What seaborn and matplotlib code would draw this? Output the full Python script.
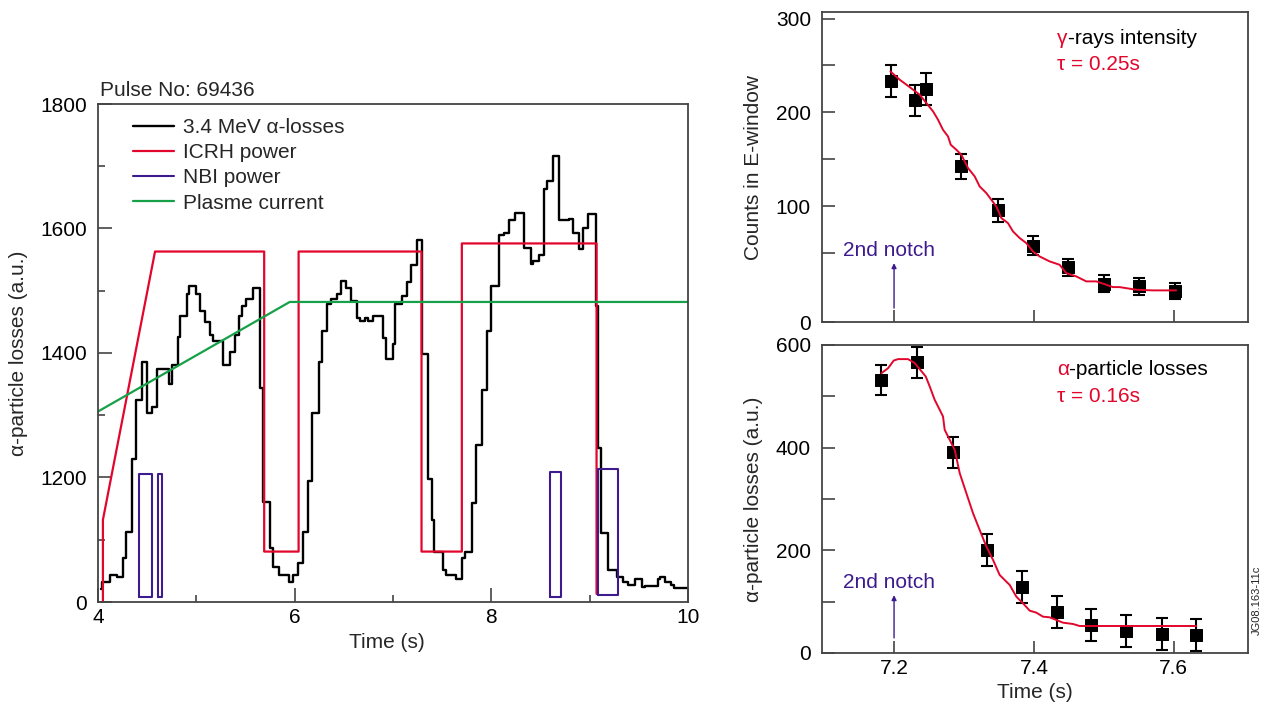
import numpy as np
import pandas as pd
import matplotlib
matplotlib.use("Agg")
import matplotlib.pyplot as plt
from matplotlib.ticker import FixedLocator, NullFormatter
import seaborn as sns

sns.set_style("ticks")
plt.rcParams['font.family'] = ['Liberation Sans', 'DejaVu Sans']
plt.rcParams['mathtext.default'] = 'regular'

RED = '#e2062c'
PURPLE = '#3d1a8e'
GREEN = '#16a047'
SPINE = '#444444'
FS = 15

# ---------------- left panel data (Pulse 69436) ----------------
# 3.4 MeV alpha-losses: step starts (s) and values (a.u., 1000 == axis bottom "0")
loss_t = [4.03, 4.04, 4.12, 4.19, 4.25, 4.28, 4.35, 4.39, 4.45, 4.50, 4.55, 4.60,
          4.72, 4.75, 4.81, 4.83, 4.90, 4.93, 5.00, 5.04, 5.09, 5.14, 5.17, 5.27,
          5.34, 5.39, 5.43, 5.46, 5.51, 5.58, 5.65, 5.68, 5.75, 5.78, 5.84, 5.94,
          5.98, 6.03, 6.08, 6.14, 6.18, 6.25, 6.28, 6.33, 6.37, 6.43, 6.47, 6.52,
          6.57, 6.63, 6.66, 6.72, 6.75, 6.80, 6.90, 6.93, 7.00, 7.02, 7.09, 7.14,
          7.18, 7.24, 7.30, 7.36, 7.40, 7.42, 7.51, 7.54, 7.64, 7.70, 7.73, 7.80,
          7.84, 7.90, 7.96, 8.00, 8.08, 8.13, 8.18, 8.24, 8.33, 8.40, 8.42, 8.48,
          8.54, 8.57, 8.63, 8.69, 8.79, 8.83, 8.89, 8.93, 8.98, 9.06, 9.08, 9.12,
          9.19, 9.28, 9.34, 9.39, 9.46, 9.53, 9.56, 9.69, 9.72, 9.77, 9.83, 9.86,
          10.0]
loss_v = [1021, 1032, 1043, 1040, 1071, 1113, 1229, 1324, 1386, 1303, 1313, 1375,
          1351, 1381, 1425, 1460, 1494, 1508, 1494, 1467, 1450, 1429, 1420, 1381,
          1401, 1429, 1460, 1476, 1486, 1505, 1344, 1160, 1087, 1057, 1043, 1032,
          1043, 1063, 1113, 1195, 1303, 1386, 1435, 1478, 1486, 1494, 1516, 1505,
          1484, 1457, 1452, 1457, 1452, 1460, 1424, 1390, 1414, 1478, 1492, 1514,
          1541, 1581, 1398, 1198, 1132, 1081, 1052, 1043, 1037, 1071, 1081, 1159,
          1252, 1341, 1435, 1508, 1590, 1593, 1613, 1625, 1569, 1543, 1548, 1557,
          1663, 1676, 1717, 1614, 1616, 1593, 1567, 1600, 1624, 1476, 1248, 1111,
          1052, 1040, 1032, 1027, 1037, 1024, 1025, 1037, 1040, 1032, 1027, 1022,
          1022]

# ICRH power outline
icrh_t = [4.05, 4.05, 4.58, 5.69, 5.69, 6.04, 6.04, 7.29, 7.29, 7.70, 7.70, 9.07, 9.07]
icrh_v = [1000, 1132, 1563, 1563, 1081, 1081, 1563, 1563, 1081, 1081, 1576, 1576, 1013]

# Plasma current
ip_t = [4.0, 5.95, 10.0]
ip_v = [1306, 1482, 1482]

# NBI power blocks
nbi_start = [4.42, 4.61, 8.60, 9.08]
nbi_end = [4.55, 4.65, 8.71, 9.29]
nbi_level = [1206, 1206, 1209, 1214]
nbi_base = [1008, 1008, 1008, 1011]

left_yticks = [1000, 1200, 1400, 1600, 1800]
left_yticklabels = ['0', '1200', '1400', '1600', '1800']

# ---------------- right panels data ----------------
g_t = [7.195, 7.230, 7.245, 7.295, 7.348, 7.398, 7.448, 7.500, 7.550, 7.602]
g_v = [233.7, 212.7, 225.0, 142.4, 95.4, 57.8, 35.0, 17.3, 14.4, 9.4]
g_err = [17.0, 16.5, 16.7, 13.7, 12.3, 10.0, 9.0, 9.0, 9.0, 8.5]

g_fit_t = [7.1948, 7.2081, 7.2224, 7.2367, 7.2462, 7.2558, 7.2629, 7.2700, 7.2772,
           7.2810, 7.2891, 7.2962, 7.3058, 7.3153, 7.3224, 7.3320, 7.3391, 7.3462,
           7.3534, 7.3629, 7.3700, 7.3796, 7.3891, 7.3986, 7.4081, 7.4224, 7.4367,
           7.4462, 7.4605, 7.4748, 7.4891, 7.5034, 7.5129, 7.5224, 7.5462, 7.5700,
           7.6033]
g_fit_v = [243.6, 234.8, 226.9, 218.8, 209.9, 201.0, 192.1, 181.4, 174.3, 165.5,
           160.1, 154.8, 140.6, 131.7, 121.0, 113.9, 106.8, 99.7, 87.3, 81.9, 73.1,
           66.0, 60.6, 51.7, 46.4, 41.1, 37.5, 28.6, 25.1, 19.8, 19.8, 16.2, 13.7,
           13.7, 10.9, 10.2, 10.2]

a_t = [7.182, 7.233, 7.284, 7.333, 7.383, 7.433, 7.481, 7.532, 7.583, 7.632]
a_v = [532, 566, 391, 201, 129, 80, 55, 43, 37, 35]
a_err = [30, 31, 30, 31, 31, 31, 31, 31, 31, 31]

a_fit_t = [7.1820, 7.1915, 7.1996, 7.2058, 7.2200, 7.2296, 7.2367, 7.2453, 7.2510,
           7.2581, 7.2653, 7.2700, 7.2724, 7.2796, 7.2867, 7.2939, 7.3034, 7.3129,
           7.3224, 7.3320, 7.3415, 7.3510, 7.3581, 7.3653, 7.3748, 7.3843, 7.3939,
           7.4034, 7.4129, 7.4224, 7.4320, 7.4415, 7.4558, 7.4653, 7.4843, 7.5224,
           7.5700, 7.6320]
a_fit_v = [545.2, 554.9, 569.8, 572.5, 572.5, 564.7, 553.0, 538.7, 519.2, 493.2,
           473.7, 460.7, 434.7, 415.2, 395.7, 350.2, 311.2, 272.3, 239.8, 207.3,
           181.3, 152.0, 142.3, 132.6, 109.8, 96.8, 82.5, 78.6, 70.8, 69.5, 64.3,
           59.1, 56.5, 52.6, 52.6, 52.6, 52.6, 52.6]

top_ybottom = -23.5
top_yticks = [top_ybottom, 50, 100, 150, 200, 250, 300]
top_yticklabels = ['0', '', '100', '', '200', '', '300']
bot_yticks = [0, 100, 200, 300, 400, 500, 600]
bot_yticklabels = ['0', '', '200', '', '400', '', '600']
right_xticks = [7.2, 7.4, 7.6]
right_xticklabels = ['7.2', '7.4', '7.6']

# ---------------- figure ----------------
W, H = 1268, 711
fig = plt.figure(figsize=(W / 100, H / 100), dpi=100)
ax1 = fig.add_axes([98 / W, 1 - 602 / H, 590 / W, 498 / H])
ax2 = fig.add_axes([822 / W, 1 - 322 / H, 426 / W, 310 / H])
ax3 = fig.add_axes([822 / W, 1 - 653 / H, 426 / W, 308 / H])

for ax in (ax1, ax2, ax3):
    for s in ax.spines.values():
        s.set_color(SPINE)
        s.set_linewidth(1.3)
    ax.tick_params(which='both', direction='in', colors=SPINE, labelcolor='black',
                   labelsize=FS, width=1.2, top=False, right=False)

# ---- left panel ----
df_loss = pd.DataFrame({'t': loss_t, 'v': loss_v})
sns.lineplot(data=df_loss, x='t', y='v', drawstyle='steps-post', estimator=None,
             sort=False, color='black', lw=1.7, ax=ax1, label='3.4 MeV \u03b1-losses')
sns.lineplot(x=icrh_t, y=icrh_v, estimator=None, sort=False, color=RED, lw=1.6,
             ax=ax1, label='ICRH power')
for i, (s0, s1, lv, b) in enumerate(zip(nbi_start, nbi_end, nbi_level, nbi_base)):
    sns.lineplot(x=[s0, s0, s1, s1, s0], y=[b, lv, lv, b, b], estimator=None,
                 sort=False, color=PURPLE, lw=1.5, ax=ax1,
                 label='NBI power' if i == 0 else None, legend=(i == 0))
sns.lineplot(x=ip_t, y=ip_v, estimator=None, sort=False, color=GREEN, lw=1.6,
             ax=ax1, label='Plasme current')

ax1.set_xlim(4, 10)
ax1.set_ylim(1000, 1800)
ax1.yaxis.set_major_locator(FixedLocator(left_yticks))
ax1.set_yticklabels(left_yticklabels)
ax1.yaxis.set_minor_locator(FixedLocator([1100, 1300, 1500, 1700]))
ax1.xaxis.set_major_locator(FixedLocator([4, 6, 8, 10]))
ax1.xaxis.set_minor_locator(FixedLocator([5, 7, 9]))
ax1.tick_params(which='major', length=10)
ax1.tick_params(which='minor', length=5)
ax1.tick_params(axis='y', pad=8)
ax1.tick_params(axis='x', pad=4)
ax1.set_xlabel('Time (s)', fontsize=FS, va='center')
ax1.xaxis.set_label_coords(0.49, -0.082)
ax1.set_ylabel('\u03b1-particle losses (a.u.)', fontsize=FS, va='center')
ax1.yaxis.set_label_coords(-0.134, 0.5)
leg = ax1.legend(loc='upper left', bbox_to_anchor=(0.059, 0.972), frameon=False,
                 fontsize=FS, handlelength=2.0, handletextpad=0.4, labelspacing=0.3,
                 borderpad=0, borderaxespad=0)
fig.text(100 / W, 1 - 90 / H, 'Pulse No: 69436', fontsize=FS, va='center', ha='left')

# ---- right top ----
ax2.errorbar(g_t, g_v, yerr=g_err, fmt='none', ecolor='black', elinewidth=1.5,
             capsize=4, capthick=1.5, zorder=2)
sns.scatterplot(x=g_t, y=g_v, marker='s', s=80, color='black', edgecolor='black',
                ax=ax2, zorder=3)
sns.lineplot(x=g_fit_t, y=g_fit_v, estimator=None, sort=False, color=RED, lw=1.4,
             ax=ax2, zorder=4)
ax2.set_xlim(7.097, 7.706)
ax2.set_ylim(top_ybottom, 307)
ax2.yaxis.set_major_locator(FixedLocator(top_yticks))
ax2.set_yticklabels(top_yticklabels)
ax2.xaxis.set_major_locator(FixedLocator(right_xticks))
ax2.set_xticklabels([])
ax2.tick_params(which='major', length=9, pad=8)
ax2.set_ylabel('Counts in E-window', fontsize=FS, va='center')
ax2.yaxis.set_label_coords(-0.16, 0.5)
ax2.set_xlabel('')

t1 = ax2.text(0.552, 0.916, '\u03b3', color=RED, fontsize=FS, transform=ax2.transAxes,
              va='center', ha='left')
ax2.annotate('-rays intensity', xy=(1, 0), xycoords=t1, va='bottom', ha='left',
             fontsize=FS, color='black')
ax2.text(0.552, 0.832, '\u03c4 = 0.25s', color=RED, fontsize=FS,
         transform=ax2.transAxes, va='center', ha='left')
ax2.text(7.1267, 0.232, '2nd notch', color=PURPLE, fontsize=FS,
         transform=ax2.get_xaxis_transform(), va='center', ha='left')
ax2.annotate('', xy=(7.2, 0.19), xytext=(7.2, 0.045),
             xycoords=('data', 'axes fraction'), textcoords=('data', 'axes fraction'),
             arrowprops=dict(arrowstyle='-|>', color=PURPLE, lw=1.0, mutation_scale=7,
                             shrinkA=0, shrinkB=0))

# ---- right bottom ----
ax3.errorbar(a_t, a_v, yerr=a_err, fmt='none', ecolor='black', elinewidth=1.5,
             capsize=4, capthick=1.5, zorder=2)
sns.scatterplot(x=a_t, y=a_v, marker='s', s=80, color='black', edgecolor='black',
                ax=ax3, zorder=3)
sns.lineplot(x=a_fit_t, y=a_fit_v, estimator=None, sort=False, color=RED, lw=1.4,
             ax=ax3, zorder=4)
ax3.set_xlim(7.097, 7.706)
ax3.set_ylim(0, 600)
ax3.yaxis.set_major_locator(FixedLocator(bot_yticks))
ax3.set_yticklabels(bot_yticklabels)
ax3.xaxis.set_major_locator(FixedLocator(right_xticks))
ax3.set_xticklabels(right_xticklabels)
ax3.tick_params(which='major', length=9)
ax3.tick_params(axis='y', pad=8)
ax3.tick_params(axis='x', pad=4)
ax3.set_ylabel('\u03b1-particle losses (a.u.)', fontsize=FS, va='center')
ax3.yaxis.set_label_coords(-0.16, 0.5)
ax3.set_xlabel('Time (s)', fontsize=FS, va='center')
ax3.xaxis.set_label_coords(0.5, -0.127)

t2 = ax3.text(0.552, 0.919, '\u03b1', color=RED, fontsize=FS, transform=ax3.transAxes,
              va='center', ha='left')
ax3.annotate('-particle losses', xy=(1, 0), xycoords=t2, va='bottom', ha='left',
             fontsize=FS, color='black')
ax3.text(0.552, 0.834, '\u03c4 = 0.16s', color=RED, fontsize=FS,
         transform=ax3.transAxes, va='center', ha='left')
ax3.text(7.1267, 0.2305, '2nd notch', color=PURPLE, fontsize=FS,
         transform=ax3.get_xaxis_transform(), va='center', ha='left')
ax3.annotate('', xy=(7.2, 0.188), xytext=(7.2, 0.049),
             xycoords=('data', 'axes fraction'), textcoords=('data', 'axes fraction'),
             arrowprops=dict(arrowstyle='-|>', color=PURPLE, lw=1.0, mutation_scale=7,
                             shrinkA=0, shrinkB=0))

fig.text(1257 / W, 1 - 600 / H, 'JG08.163-11c', fontsize=8, rotation=90,
         ha='center', va='center')

fig.savefig('out.png', dpi=100)
